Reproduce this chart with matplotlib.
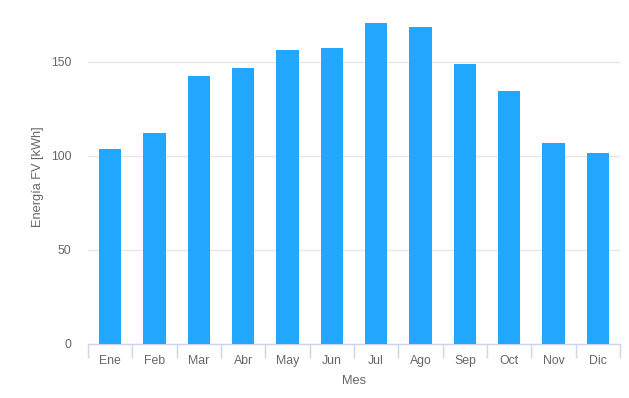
import matplotlib
matplotlib.use("Agg")
import matplotlib.pyplot as plt
import numpy as np

months = ["Ene", "Feb", "Mar", "Abr", "May", "Jun", "Jul", "Ago", "Sep", "Oct", "Nov", "Dic"]
energy = [103.6, 112.2, 142.6, 147.0, 156.4, 157.4, 170.9, 168.6, 148.9, 134.4, 107.1, 101.8]
yticks = [0, 50, 100, 150]

W, H = 629, 398
fig = plt.figure(figsize=(W / 100, H / 100), dpi=100)
left, right, top, bottom = 88, 620, 10, 344
ax = fig.add_axes([left / W, 1 - bottom / H, (right - left) / W, (bottom - top) / H])

plt.rcParams['font.family'] = ['Liberation Sans', 'DejaVu Sans']
txt = "#666666"
x = np.arange(len(months))
ax.bar(x, energy, width=0.5, color="#22a7fe", zorder=3)
ax.set_xlim(-0.5, len(months) - 0.5)
ax.set_ylim(0, (bottom - top) / 1.88)
ax.set_yticks(yticks)
ax.set_yticklabels([str(v) for v in yticks], fontsize=8.8, color=txt, family=['Liberation Sans'])
ax.set_xticks(x)
ax.set_xticklabels(months, fontsize=8.8, color=txt, family=['Liberation Sans'])
ax.tick_params(axis='y', length=0, pad=12)
ax.tick_params(axis='x', length=0, pad=8)
ax.set_xticks(np.arange(-0.5, len(months), 1), minor=True)
ax.tick_params(axis='x', which='minor', length=10, color="#ccd6eb", width=1)
ax.grid(axis='y', color="#e6e6e6", linewidth=1, zorder=0)
for s in ["top", "right", "left"]:
    ax.spines[s].set_visible(False)
ax.spines["bottom"].set_color("#ccd6eb")
ax.spines["bottom"].set_linewidth(1)
ax.set_xlabel("Mes", fontsize=9.2, color=txt, labelpad=6, family=['Liberation Sans'])
ax.set_ylabel("Energía FV [kWh]", fontsize=9.2, color=txt, labelpad=5, family=['Liberation Sans'])

fig.savefig("out.png", dpi=100)
